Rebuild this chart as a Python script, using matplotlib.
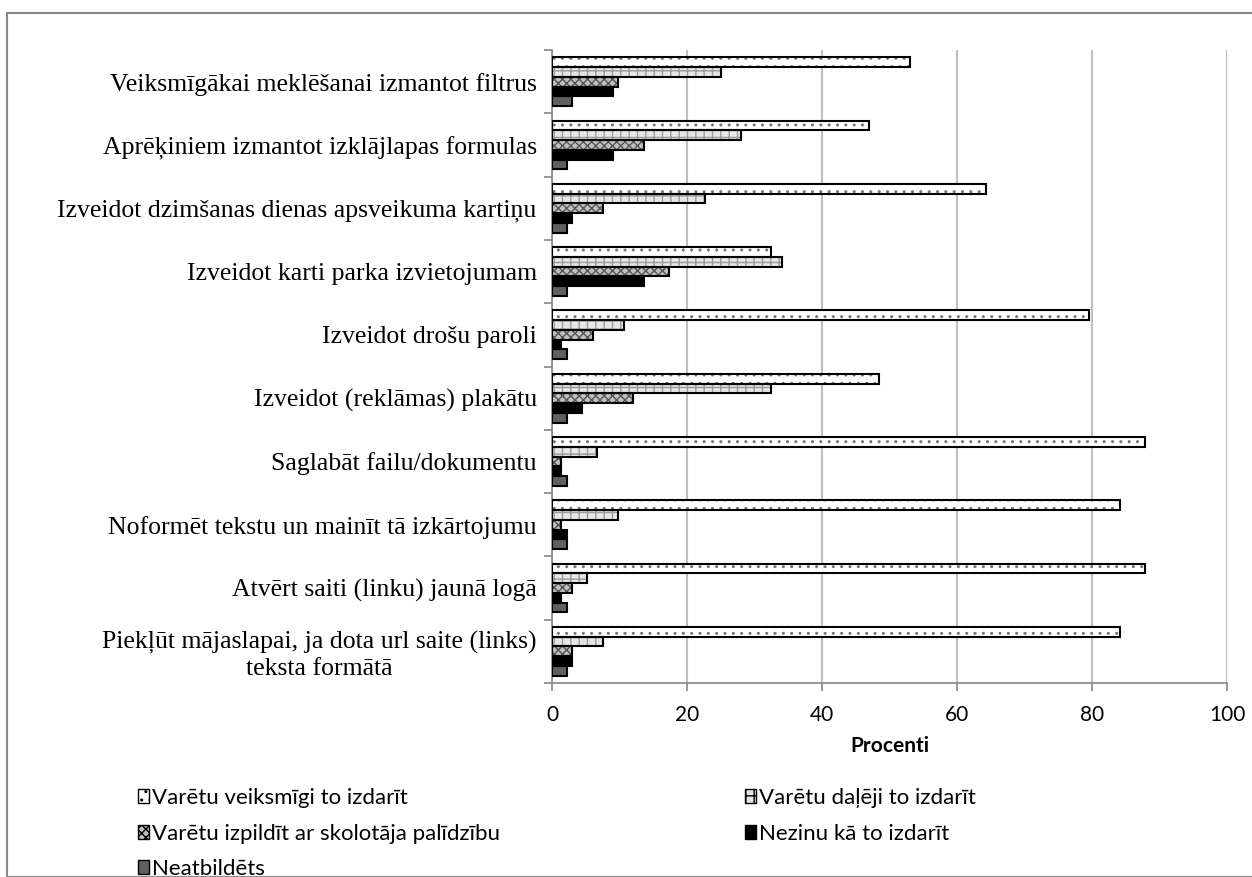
import matplotlib
matplotlib.use("Agg")
import matplotlib.pyplot as plt
import numpy as np
from matplotlib.patches import Rectangle, Patch

categories = [
    "Veiksmīgākai meklēšanai izmantot filtrus",
    "Aprēķiniem izmantot izklājlapas formulas",
    "Izveidot dzimšanas dienas apsveikuma kartiņu",
    "Izveidot karti parka izvietojumam",
    "Izveidot drošu paroli",
    "Izveidot (reklāmas) plakātu",
    "Saglabāt failu/dokumentu",
    "Noformēt tekstu un mainīt tā izkārtojumu",
    "Atvērt saiti (linku) jaunā logā",
    "Piekļūt mājaslapai, ja dota url saite (links)\nteksta formātā",
]
series_names = [
    "Varētu veiksmīgi to izdarīt",
    "Varētu daļēji to izdarīt",
    "Varētu izpildīt ar skolotāja palīdzību",
    "Nezinu kā to izdarīt",
    "Neatbildēts",
]
veiksmigi   = [53.0, 47.0, 64.3, 32.5, 79.6, 48.4, 87.9, 84.1, 87.9, 84.1]
daleji      = [25.0, 28.0, 22.7, 34.0, 10.6, 32.5, 6.7, 9.8, 5.2, 7.5]
skolotajs   = [9.8, 13.6, 7.5, 17.4, 6.0, 12.0, 1.3, 1.3, 3.0, 2.9]
nezinu      = [9.1, 9.1, 3.0, 13.6, 1.4, 4.5, 1.4, 2.2, 1.4, 3.0]
neatbildets = [3.0, 2.2, 2.2, 2.2, 2.2, 2.2, 2.2, 2.2, 2.2, 2.2]
xticks = [0, 20, 40, 60, 80, 100]

series = [veiksmigi, daleji, skolotajs, nezinu, neatbildets]
styles = [
    dict(facecolor="white", hatch="..", hcol="#777777"),
    dict(facecolor="#e6e6e6", hatch="++", hcol="#9a9a9a"),
    dict(facecolor="#c0c0c0", hatch="xxxx", hcol="#555555"),
    dict(facecolor="#000000", hatch=None, hcol="#000000"),
    dict(facecolor="#606060", hatch=None, hcol="#606060"),
]

W, H = 1252, 877
fig = plt.figure(figsize=(W / 100, H / 100), dpi=100)
ax = fig.add_axes([552 / W, 1 - 683 / H, (1227 - 552) / W, (683 - 50) / H])

n = len(categories)
y = np.arange(n)
bh = 0.154
offsets = (np.arange(5) - 2) * bh
plt.rcParams["hatch.linewidth"] = 1.0
for vals, st, off in zip(series, styles, offsets):
    ax.barh(y + off, vals, height=bh, color=st["facecolor"], edgecolor=st["hcol"],
            hatch=st["hatch"], linewidth=0, zorder=3)
    ax.barh(y + off, vals, height=bh, fill=False, edgecolor="black",
            linewidth=1.5, zorder=4)

ax.set_ylim(n - 0.5, -0.5)
ax.set_xlim(0, 100)
ax.set_yticks(y)
ax.set_yticklabels(categories, fontfamily="Liberation Serif", fontsize=18.5,
                   multialignment="center")
ax.tick_params(axis="y", which="major", length=0, pad=11)
ax.set_yticks(np.arange(n + 1) - 0.5, minor=True)
ax.tick_params(axis="y", which="minor", length=6, color="#888888", width=1.2)
ax.set_xticks(xticks)
ax.set_xticklabels([str(v) for v in xticks], fontfamily="Lato", fontsize=15)
ax.tick_params(axis="x", length=6, color="#888888", width=1.2, pad=10)
ax.grid(axis="x", color="#bfbfbf", linewidth=1.5, zorder=0)
ax.set_axisbelow(True)
for side in ["top", "right"]:
    ax.spines[side].set_visible(False)
for side in ["left", "bottom"]:
    ax.spines[side].set_color("#888888")
    ax.spines[side].set_linewidth(1.2)
ax.set_xlabel("Procenti", fontfamily="Lato", fontsize=15, fontweight="bold", labelpad=8)

handles = [Patch(facecolor=st["facecolor"], edgecolor="black", hatch=st["hatch"],
                 linewidth=1.0) for st in styles]
order = [0, 2, 4, 1, 3]
leg = fig.legend([handles[i] for i in order], [series_names[i] for i in order],
                 ncol=2, loc="upper left", bbox_to_anchor=(118 / W, 1 - 768 / H),
                 frameon=False, prop={"family": "Lato", "size": 16},
                 handlelength=0.5, handleheight=0.6, handletextpad=0.15,
                 columnspacing=11.0, labelspacing=0.7)

fig.patches.append(Rectangle((7 / W, 0), 1.1, 1 - 13 / H, transform=fig.transFigure,
                             fill=False, edgecolor="#888888", linewidth=1.5))

fig.savefig("out.png", dpi=100)
